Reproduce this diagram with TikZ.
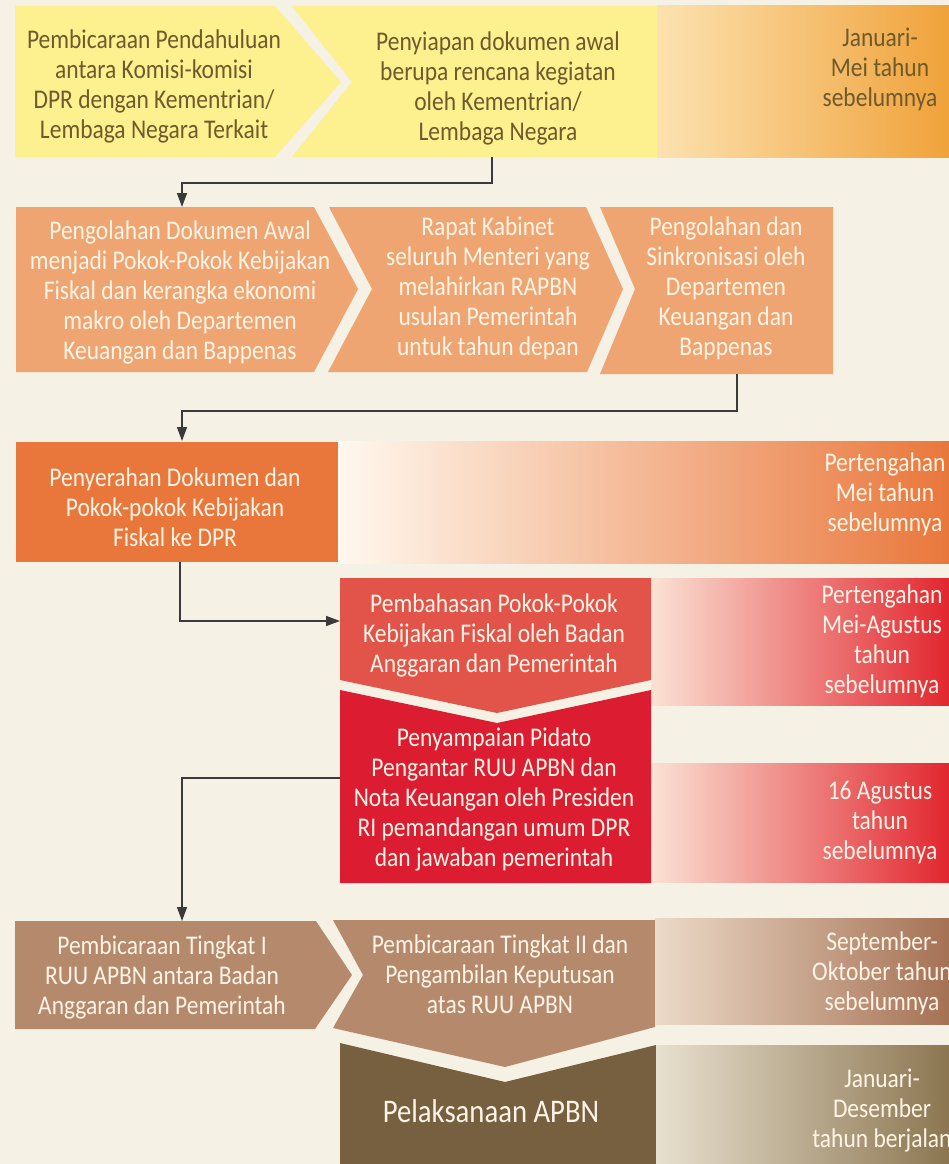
\documentclass[tikz,border=0pt]{standalone}
\usepackage{fontspec}
\setmainfont{Carlito}[FakeStretch=0.87]
\usetikzlibrary{arrows.meta}

% palette
\definecolor{paper}{HTML}{F5F1E5}
\definecolor{lemon}{HTML}{FDF08F}
\definecolor{lemonink}{HTML}{6E5A2C}
\definecolor{sunL}{HTML}{FCE2B0}
\definecolor{sunR}{HTML}{F0A23A}
\definecolor{salmon}{HTML}{EFA571}
\definecolor{carrot}{HTML}{E9773B}
\definecolor{carrotL}{HTML}{FFF8EE}
\definecolor{coral}{HTML}{E2534A}
\definecolor{crimson}{HTML}{DC1D31}
\definecolor{rosyL}{HTML}{FAE2D4}
\definecolor{rosyR}{HTML}{E2262F}
\definecolor{tan}{HTML}{B5896B}
\definecolor{tanL}{HTML}{EBDAC8}
\definecolor{tanR}{HTML}{A57154}
\definecolor{umber}{HTML}{76603F}
\definecolor{oliveL}{HTML}{E8E0CF}
\definecolor{oliveR}{HTML}{8C7651}
\definecolor{cream}{HTML}{FFF4E6}
\definecolor{wire}{HTML}{3A3A3A}

\tikzset{
  boxtxt/.style={align=center, inner sep=0pt, text=cream,
    font=\fontsize{27}{30}\selectfont},
  darktxt/.style={boxtxt, text=lemonink},
  datetxt/.style={boxtxt},
  conn/.style={draw=wire, line width=1.4pt,
    -{Triangle[length=14pt,width=10pt]}},
}

\begin{document}
\begin{tikzpicture}[x=1pt,y=-1pt]
\fill[paper] (0,0) rectangle (949,1164);
\useasboundingbox (0,0) rectangle (949,1164);

% ---------- stage 1 ----------
\fill[lemon] (15,6) -- (275,6) -- (341,82) -- (275,157) -- (15,157) -- cycle;
\fill[lemon] (292,6) -- (657,6) -- (657,157) -- (292,157) -- (352,82) -- cycle;
\shade[left color=sunL, right color=sunR] (657,6) rectangle (949,157);

\node[darktxt] (s1a) at (154,86) {Pembicaraan Pendahuluan\\antara Komisi-komisi\\DPR dengan Kementrian/\\Lembaga Negara Terkait};
\node[darktxt] (s1b) at (498,88) {Penyiapan dokumen awal\\berupa rencana kegiatan\\oleh Kementrian/\\Lembaga Negara};
\node[darktxt] (d1) at (880,69) {Januari-\\Mei tahun\\sebelumnya};

% ---------- stage 2 ----------
\fill[salmon] (16,207) -- (314,207) -- (358,289) -- (314,372) -- (16,372) -- cycle;
\fill[salmon] (329,207) -- (586,207) -- (623,289) -- (587,372) -- (328,372) -- (372,289) -- cycle;
\fill[salmon] (600,207) -- (833,207) -- (833,374) -- (600,374) -- (635,289) -- cycle;

\node[boxtxt] (s2a) at (180,292) {Pengolahan Dokumen Awal\\menjadi Pokok-Pokok Kebijakan\\Fiskal dan kerangka ekonomi\\makro oleh Departemen\\Keuangan dan Bappenas};
\node[boxtxt] (s2b) at (488,288) {Rapat Kabinet\\seluruh Menteri yang\\melahirkan RAPBN\\usulan Pemerintah\\untuk tahun depan};
\node[boxtxt] (s2c) at (726,288) {Pengolahan dan\\Sinkronisasi oleh\\Departemen\\Keuangan dan\\Bappenas};

% ---------- stage 3 ----------
\fill[carrot] (16,442) rectangle (338,562);
\shade[left color=carrotL, right color=carrot] (338,441) rectangle (949,563);
\node[boxtxt] (s3) at (175,507) {Penyerahan Dokumen dan\\Pokok-pokok Kebijakan\\Fiskal ke DPR};
\node[datetxt] (d3) at (885,494) {Pertengahan\\Mei tahun\\sebelumnya};

% ---------- stage 4 ----------
\shade[left color=rosyL, right color=rosyR] (651,578) rectangle (949,705);
\fill[coral] (340,578) -- (651,578) -- (651,680) -- (497,713) -- (340,680) -- cycle;
\node[boxtxt] (s4) at (494,635) {Pembahasan Pokok-Pokok\\Kebijakan Fiskal oleh Badan\\Anggaran dan Pemerintah};
\node[datetxt] (d4) at (882,641) {Pertengahan\\Mei-Agustus\\tahun\\sebelumnya};

\shade[left color=rosyL, right color=rosyR] (651,763) rectangle (949,882);
\fill[crimson] (340,690) -- (497,723) -- (651,690) -- (651,883) -- (340,883) -- cycle;
\node[boxtxt] (s5) at (494,799) {Penyampaian Pidato\\Pengantar RUU APBN dan\\Nota Keuangan oleh Presiden\\RI pemandangan umum DPR\\dan jawaban pemerintah};
\node[datetxt] (d5) at (880,823) {16 Agustus\\tahun\\sebelumnya};

% ---------- stage 5 ----------
\fill[tan] (15,921) -- (316,921) -- (352,975) -- (315,1029) -- (15,1029) -- cycle;
\fill[tan] (333,920) -- (655,920) -- (655,1027) -- (505,1067) -- (333,1028) -- (363,975) -- cycle;
\shade[left color=tanL, right color=tanR] (655,918) rectangle (949,1024);
\node[boxtxt] (s6a) at (162,977) {Pembicaraan Tingkat I\\RUU APBN antara Badan\\Anggaran dan Pemerintah};
\node[boxtxt] (s6b) at (500,974) {Pembicaraan Tingkat II dan\\Pengambilan Keputusan\\atas RUU APBN};
\node[datetxt] (d6) at (882,973) {September-\\Oktober tahun\\sebelumnya};

\fill[umber] (340,1043) -- (505,1082) -- (656,1045) -- (656,1164) -- (340,1164) -- cycle;
\shade[left color=oliveL, right color=oliveR] (656,1045) rectangle (949,1164);
\node[boxtxt, font=\fontsize{33}{36}\selectfont] (s7) at (491,1111) {Pelaksanaan APBN};
\node[datetxt] (d7) at (882,1111) {Januari-\\Desember\\tahun berjalan};

% ---------- connectors ----------
\coordinate (s1b-out) at (492,157);
\coordinate (s2a-in)  at (182,207);
\coordinate (s2c-out) at (737,374);
\coordinate (s3-in)   at (182,441);
\coordinate (s3-out)  at (180,562);
\coordinate (s4-in)   at (340,621);
\coordinate (s5-out)  at (340,778);
\coordinate (s6a-in)  at (182,921);

\draw[conn] (s1b-out) -- ++(0,26) -| (s2a-in);
\draw[conn] (s2c-out) -- ++(0,37) -| (s3-in);
\draw[conn] (s3-out) |- (s4-in);
\draw[conn] (s5-out) -| (s6a-in);
\end{tikzpicture}
\end{document}
